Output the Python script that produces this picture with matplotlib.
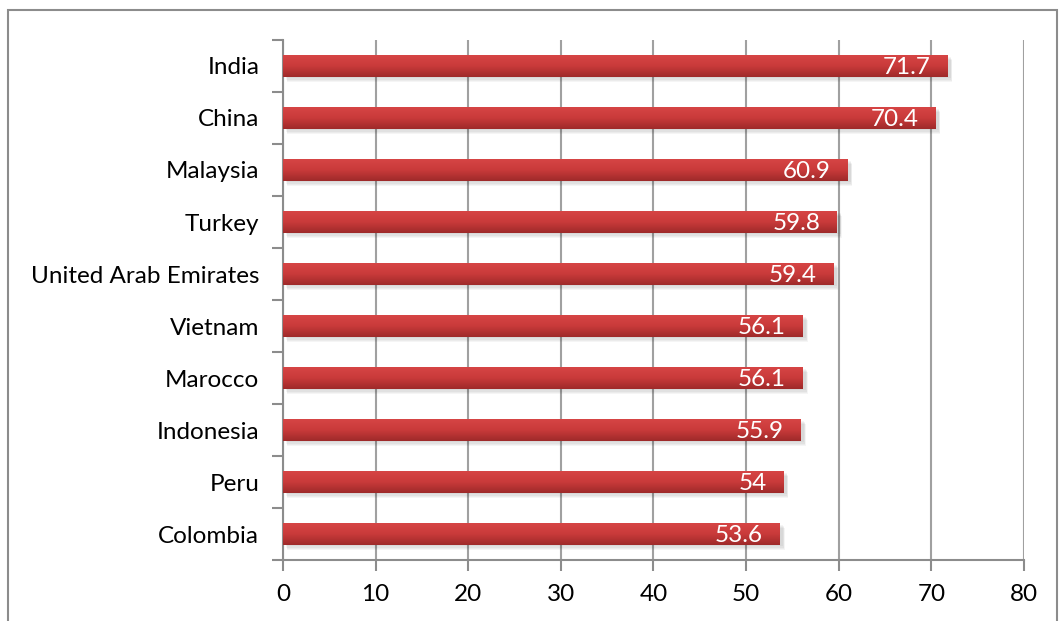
import numpy as np
import matplotlib.pyplot as plt
from matplotlib.patches import Rectangle
from matplotlib.colors import LinearSegmentedColormap

countries = ['India', 'China', 'Malaysia', 'Turkey', 'United Arab Emirates',
             'Vietnam', 'Marocco', 'Indonesia', 'Peru', 'Colombia']
scores = [71.7, 70.4, 60.9, 59.8, 59.4, 56.1, 56.1, 55.9, 54, 53.6]
value_labels = ['71.7', '70.4', '60.9', '59.8', '59.4',
                '56.1', '56.1', '55.9', '54', '53.6']

plt.rcParams['font.family'] = ['Lato', 'DejaVu Sans']

fig = plt.figure(figsize=(10.59, 6.21), dpi=100)
ax = fig.add_axes([0.2672, 0.0982, 0.6997, 0.8374])

# outer chart frame
fig.patches.append(Rectangle((8 / 1059, -0.05), 1049 / 1059, 1.05 - 10 / 621,
                             transform=fig.transFigure, fill=False,
                             edgecolor='#8c8c8c', linewidth=1.5))

n = len(countries)
ypos = np.arange(n)[::-1]
bar_h = 0.42
grad = LinearSegmentedColormap.from_list('bar', ['#d64545', '#c93a3a', '#9e2a2a'])
g = np.linspace(0, 1, 64).reshape(-1, 1)

for y, v, lab in zip(ypos, scores, value_labels):
    # soft shadow under the bar
    for k in range(4):
        ax.add_patch(Rectangle((0.3 + 0.05 * k, y - bar_h / 2 - 0.03 - 0.02 * k),
                               v + 0.1, bar_h, facecolor='#000000',
                               alpha=0.04, edgecolor='none', zorder=2))
    ax.imshow(g, cmap=grad, aspect='auto', interpolation='bilinear',
              extent=(0, v, y - bar_h / 2, y + bar_h / 2), zorder=3)
    ax.text(v - 1.8, y - 0.03, lab, color='white', fontsize=17.5,
            ha='right', va='center', zorder=4)

ax.set_xlim(0, 80)
ax.set_ylim(-0.5, n - 0.5)
ax.set_xticks(np.arange(0, 81, 10))
ax.set_yticks(ypos)
ax.set_yticklabels(countries)
ax.set_yticks(np.arange(-0.5, n, 1), minor=True)
ax.grid(axis='x', color='#a0a0a0', linewidth=1.5, zorder=1)
ax.set_axisbelow(True)

for s in ['top', 'right']:
    ax.spines[s].set_visible(False)
for s in ['left', 'bottom']:
    ax.spines[s].set_color('#8c8c8c')
    ax.spines[s].set_linewidth(1.5)

ax.tick_params(axis='y', which='major', length=0, pad=17, labelsize=17.5)
ax.tick_params(axis='y', which='minor', length=8, width=1.5, color='#8c8c8c')
ax.tick_params(axis='x', length=8, width=1.5, color='#8c8c8c', labelsize=17.5, pad=9)

fig.savefig('out.png', dpi=100)
